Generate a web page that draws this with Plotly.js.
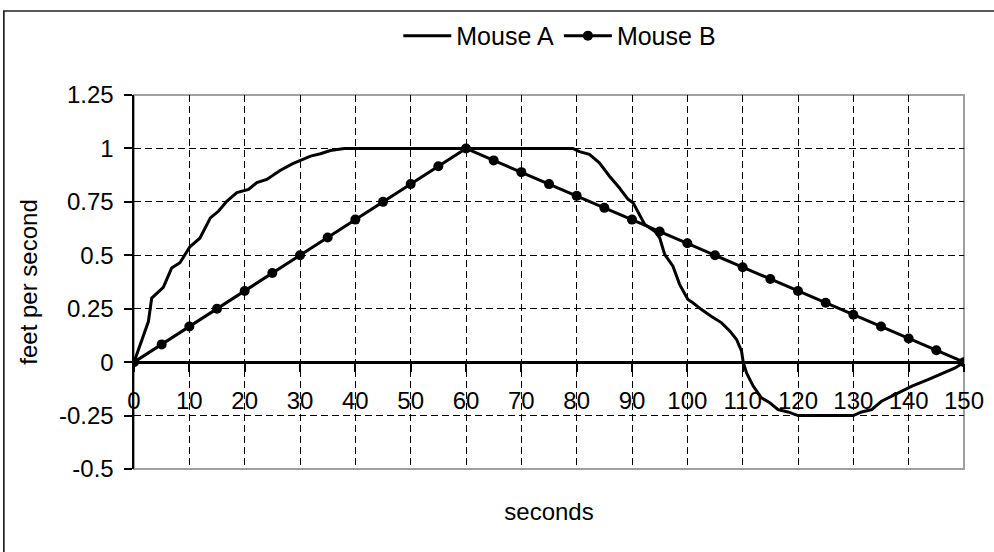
<!DOCTYPE html>
<html>
<head>
<meta charset="utf-8">
<script src="https://cdn.plot.ly/plotly-3.0.1.min.js"></script>
<style>html,body{margin:0;padding:0;background:#fff;}#chart{width:994px;height:552px;}</style>
</head>
<body>
<div id="chart"></div>
<script>
// Mouse A
const mouseAx = [0, 1.1, 2.6, 3.2, 5.3, 6.8, 8.3, 10.1, 11.9, 13.8, 15.3, 16.8, 18.6, 20.7, 22.2, 24.0, 26.4, 28.6, 30.7, 31.9, 33.7, 35.5, 38, 79.3, 80.5, 82.3, 84.1, 85.9, 87.7, 88.6, 89.3, 90.2, 91.4, 92.3, 94.1, 95.0, 95.9, 97.4, 98.6, 100.1, 101.0, 102.5, 104.3, 106.2, 107.7, 108.9, 109.8, 110.1, 110.7, 111.9, 113.4, 114.9, 116.4, 118.2, 120.0, 130.0, 131.5, 133.3, 135.1, 137.6, 140.6, 143.6, 146.3, 148.4, 150];
const mouseAy = [0, 0.083, 0.19, 0.30, 0.35, 0.44, 0.465, 0.54, 0.58, 0.675, 0.707, 0.754, 0.793, 0.808, 0.84, 0.855, 0.897, 0.928, 0.949, 0.964, 0.975, 0.99, 1.0, 1.0, 0.985, 0.972, 0.933, 0.871, 0.816, 0.785, 0.762, 0.746, 0.69, 0.644, 0.613, 0.582, 0.504, 0.449, 0.364, 0.293, 0.278, 0.247, 0.215, 0.184, 0.145, 0.106, 0.051, 0, -0.05, -0.112, -0.167, -0.19, -0.222, -0.233, -0.25, -0.25, -0.233, -0.222, -0.183, -0.152, -0.112, -0.081, -0.05, -0.027, 0];

// Mouse B
const mouseBx = [0, 5, 10, 15, 20, 25, 30, 35, 40, 45, 50, 55, 60, 65, 70, 75, 80, 85, 90, 95, 100, 105, 110, 115, 120, 125, 130, 135, 140, 145, 150];
const mouseBy = [0, 0.083, 0.167, 0.25, 0.333, 0.417, 0.5, 0.583, 0.667, 0.75, 0.833, 0.917, 1.0, 0.944, 0.889, 0.833, 0.778, 0.722, 0.667, 0.611, 0.556, 0.5, 0.444, 0.389, 0.333, 0.278, 0.222, 0.167, 0.111, 0.056, 0];

const xTickVals = [0, 10, 20, 30, 40, 50, 60, 70, 80, 90, 100, 110, 120, 130, 140, 150];
const yTickVals = [-0.5, -0.25, 0, 0.25, 0.5, 0.75, 1, 1.25];
const yTickText = ["-0.5", "-0.25", "0", "0.25", "0.5", "0.75", "1", "1.25"];

const FONT = "Liberation Sans, Arial, sans-serif";

const traces = [
  {x: mouseAx, y: mouseAy, name: "Mouse A", type: "scatter", mode: "lines",
   line: {color: "#000", width: 3}},
  {x: mouseBx, y: mouseBy, name: "Mouse B", type: "scatter", mode: "lines+markers",
   line: {color: "#000", width: 3}, marker: {color: "#000", size: 10, symbol: "circle"}}
];

const yZeroPos = 0.5 / 1.75;

const layout = {
  width: 994, height: 552,
  margin: {l: 134, r: 30, t: 95, b: 83},
  paper_bgcolor: "#fff", plot_bgcolor: "#fff",
  font: {family: FONT, size: 24, color: "#000"},
  showlegend: true,
  legend: {orientation: "h", x: 0.513, xanchor: "center", y: 1.158, yanchor: "middle",
    font: {family: FONT, size: 25, color: "#000"}, bgcolor: "rgba(0,0,0,0)", itemwidth: 48},
  xaxis: {
    range: [0, 150], tickvals: xTickVals, ticktext: xTickVals.map(String),
    anchor: "free", position: yZeroPos,
    showline: true, linecolor: "#000", linewidth: 2.5,
    ticks: "outside", ticklen: 8, tickwidth: 2, tickcolor: "#000",
    ticklabelstandoff: 9,
    showgrid: true, gridcolor: "#000", gridwidth: 1, griddash: "7px,4px",
    zeroline: false, fixedrange: true,
    tickfont: {family: FONT, size: 24, color: "#000"},
    title: {text: "seconds", font: {family: FONT, size: 24, color: "#000"}, standoff: 89}
  },
  yaxis: {
    range: [-0.5, 1.25], tickvals: yTickVals, ticktext: yTickText,
    showline: true, linecolor: "#000", linewidth: 2.5,
    ticks: "outside", ticklen: 8, tickwidth: 2, tickcolor: "#000",
    ticklabelstandoff: 5,
    showgrid: true, gridcolor: "#000", gridwidth: 1, griddash: "7px,4px",
    zeroline: false, fixedrange: true,
    tickfont: {family: FONT, size: 24, color: "#000"},
    title: {text: "feet per second", font: {family: FONT, size: 24, color: "#000"}, standoff: 15}
  },
  shapes: [
    {type: "rect", xref: "paper", yref: "paper", x0: 0, x1: 1, y0: 0, y1: 1,
     line: {color: "#a0a0a0", width: 2}, layer: "below"},
    {type: "rect", xref: "paper", yref: "paper", x0: -0.1568, x1: 1.2, y0: -0.4, y1: 1.2246,
     line: {color: "#222", width: 1.7}, layer: "above"}
  ]
};

Plotly.newPlot("chart", traces, layout, {displayModeBar: false, staticPlot: true});
</script>
</body>
</html>
